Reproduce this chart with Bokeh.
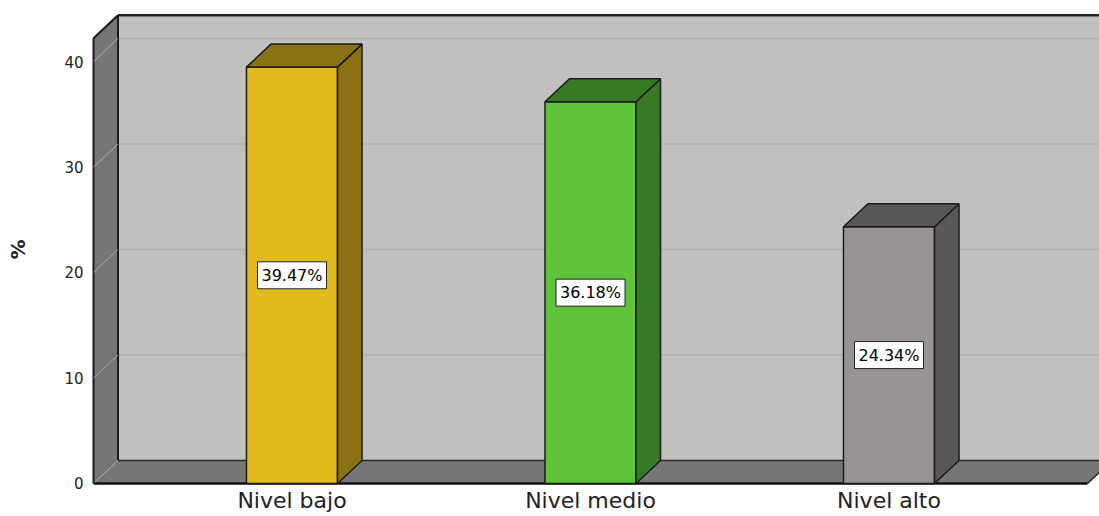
from bokeh.plotting import figure
from bokeh.models import Range1d, FixedTicker, Label, ColumnDataSource
from bokeh.embed import file_html
from bokeh.resources import INLINE

# ---- data ----
categories = ["Nivel bajo", "Nivel medio", "Nivel alto"]
percentages = [39.47, 36.18, 24.34]
pct_labels = ["39.47%", "36.18%", "24.34%"]
y_ticks = [0, 10, 20, 30, 40]
y_title = "%"

# ---- style ----
front_colors = ["#e0bb1e", "#5ec23a", "#989493"]
dark_colors = ["#8a7213", "#387a23", "#5a5857"]
WALL_COLOR = "#767676"
BACK_COLOR = "#c0c0c0"

# ---- 3D geometry (data units) ----
PXX = 298.5          # px per category step
PXY = 10.55          # px per percent
DX = 24.5 / PXX      # depth offset in x
DY = 23.0 / PXY      # depth offset in y
WL = -0.665          # left wall front x
WR = 2.665           # floor right front x
WT = 42.2            # wall top value
BAR_W = 0.305
X0 = WL - 2 / PXX

p = figure(width=1099, height=516, output_backend="svg", toolbar_location=None,
           x_range=Range1d(X0, X0 + 1008 / PXX),
           y_range=Range1d(-0.19, 44.55),
           min_border_left=91, min_border_right=0, min_border_top=13, min_border_bottom=31)
p.grid.visible = False
p.outline_line_color = None
p.background_fill_color = "white"
p.border_fill_color = "white"

# back wall
p.quad(left=[WL + DX], right=[WR + DX], bottom=[DY], top=[WT + DY],
       fill_color=BACK_COLOR, line_color=None)
gt = y_ticks[1:]
p.segment(x0=[WL + DX] * len(gt), y0=[t + DY for t in gt],
          x1=[WR + DX] * len(gt), y1=[t + DY for t in gt],
          line_color="#b2b2b2", line_width=1.5)
p.segment(x0=[WL + DX], y0=[WT + DY], x1=[WR + DX], y1=[WT + DY],
          line_color="#222222", line_width=2.5)

# floor
p.patch([WL, WR, WR + DX, WL + DX], [0, 0, DY, DY], fill_color=WALL_COLOR, line_color=None)
p.segment(x0=[WL + DX], y0=[DY], x1=[WR + DX], y1=[DY], line_color="#2a2a2a", line_width=1.5)
p.segment(x0=[WR], y0=[0], x1=[WR + DX], y1=[DY], line_color="#222222", line_width=1.5)

# left wall
p.patch([WL, WL, WL + DX, WL + DX], [0, WT, WT + DY, DY], fill_color=WALL_COLOR, line_color=None)
p.multi_line(xs=[[WL, WL], [WL, WL + DX], [WL + DX, WL + DX]],
             ys=[[0, WT], [WT, WT + DY], [DY, WT + DY]],
             line_color="#1a1a1a", line_width=2)
p.segment(x0=[WL] * len(y_ticks), y0=y_ticks,
          x1=[WL + DX] * len(y_ticks), y1=[t + DY for t in y_ticks],
          line_color="#a8a8a8", line_width=1)
p.segment(x0=[WL], y0=[0], x1=[WR], y1=[0], line_color="#111111", line_width=2.5)

# bars
xs = list(range(len(categories)))
hw = BAR_W / 2
src = ColumnDataSource(dict(
    left=[x - hw for x in xs], right=[x + hw for x in xs],
    top=percentages, bottom=[0] * len(xs), color=front_colors))
p.quad(left="left", right="right", top="top", bottom="bottom", source=src,
       fill_color="color", line_color="#1a1a1a", line_width=1.5)
side_xs = [[x + hw, x + hw, x + hw + DX, x + hw + DX] for x in xs]
side_ys = [[0, v, v + DY, DY] for v in percentages]
top_xs = [[x - hw, x + hw, x + hw + DX, x - hw + DX] for x in xs]
top_ys = [[v, v, v + DY, v + DY] for v in percentages]
p.patches(xs=side_xs, ys=side_ys, fill_color=dark_colors, line_color="#1a1a1a", line_width=1.5)
p.patches(xs=top_xs, ys=top_ys, fill_color=dark_colors, line_color="#1a1a1a", line_width=1.5)

for x, v, t in zip(xs, percentages, pct_labels):
    p.add_layout(Label(x=x, y=v / 2, text=t, text_align="center", text_baseline="middle",
                       text_font="DejaVu Sans", text_font_size="16px", text_color="black",
                       background_fill_color="white", border_line_color="#222222",
                       border_line_width=1, padding=4))

# axes
p.xaxis.ticker = FixedTicker(ticks=xs)
p.xaxis.major_label_overrides = {x: c for x, c in zip(xs, categories)}
p.xaxis.axis_line_color = None
p.xaxis.major_tick_line_color = None
p.xaxis.minor_tick_line_color = None
p.xaxis.major_tick_out = 0
p.xaxis.major_tick_in = 0
p.xaxis.major_label_text_font = "DejaVu Sans"
p.xaxis.major_label_text_font_size = "22px"
p.xaxis.major_label_text_line_height = 1.0
p.xaxis.major_label_text_color = "#222222"
p.xaxis.major_label_standoff = 2

p.yaxis.ticker = FixedTicker(ticks=y_ticks)
p.yaxis.axis_line_color = None
p.yaxis.major_tick_line_color = None
p.yaxis.minor_tick_line_color = None
p.yaxis.major_tick_out = 0
p.yaxis.major_tick_in = 0
p.yaxis.major_label_text_font = "DejaVu Sans"
p.yaxis.major_label_text_font_size = "15px"
p.yaxis.major_label_text_color = "#222222"
p.yaxis.major_label_standoff = 8
p.yaxis.axis_label = y_title
p.yaxis.axis_label_text_font = "DejaVu Sans"
p.yaxis.axis_label_text_font_style = "bold"
p.yaxis.axis_label_text_font_size = "20px"
p.yaxis.axis_label_text_color = "#222222"
p.yaxis.axis_label_standoff = 31

open("out.html", "w").write(file_html(p, INLINE))
